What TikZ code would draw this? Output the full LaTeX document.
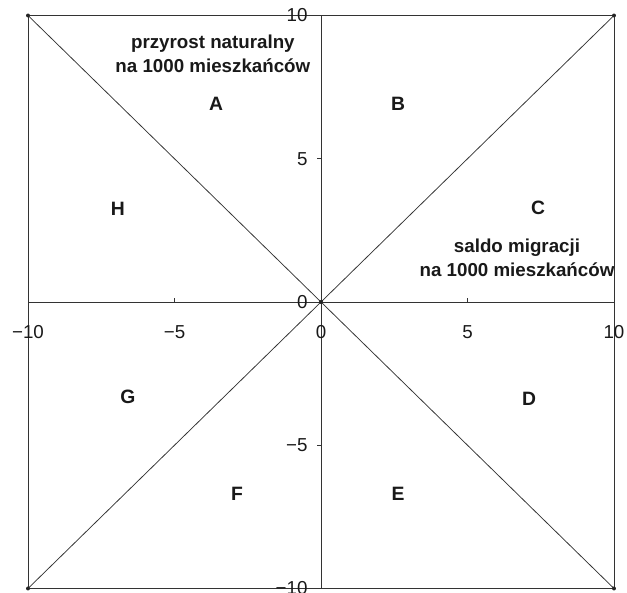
\documentclass[tikz,border=0pt]{standalone}
\usepackage{fontspec}
\setmainfont{Liberation Sans}
\usepackage{xcolor}
\usepackage{tikz}
\usetikzlibrary{positioning}

\begin{document}
\begin{tikzpicture}[x=0.879cm,y=0.8595cm,line width=0.65pt,
  every node/.style={font=\fontsize{16}{18}\selectfont,text=black!90,inner sep=0pt},
  zone/.style={font=\fontsize{16.5}{20}\selectfont\bfseries},
  axistitle/.style={font=\fontsize{16}{20.5}\selectfont\bfseries,align=center}]
\useasboundingbox (-10.956,-10.157) rectangle (10.444,10.541);
\coordinate (nw) at (-10,10); \coordinate (ne) at (10,10);
\coordinate (sw) at (-10,-10); \coordinate (se) at (10,-10);
\coordinate (xl) at (-10,0); \coordinate (xr) at (10,0);
\coordinate (yb) at (0,-10); \coordinate (yt) at (0,10);
\coordinate (o) at (0,0);
\draw[black!80] (nw)--(ne)--(se)--(sw)--cycle;
\draw[black!80] (xl)--(xr); \draw[black!80] (yb)--(yt);
\draw[black!80] (nw)--(se); \draw[black!80] (sw)--(ne);
% ticks
\foreach \v in {-5,5} {\draw[black!80] (\v,0)--(\v,0.15); \draw[black!80] (0,\v)--(-0.15,\v);}
\foreach \v/\t [count=\i] in {-10/−10,-5/−5,0/0,5/5,10/10} {
  \node (xt\i) at (\v,-1.05) {\t};
  \node[anchor=east] (yt\i) at (-0.45,\v) {\t};}
\foreach \p in {nw,ne,sw,se,o} \fill[black!85] (\p) circle (1.7pt);
% sectors
\node[zone] (A) at (-3.58,6.91) {A};
\node[zone] (B) at (2.63,6.91) {B};
\node[zone] (C) at (7.41,3.28) {C};
\node[zone] (D) at (7.10,-3.39) {D};
\node[zone] (E) at (2.63,-6.70) {E};
\node[zone] (F) at (-2.87,-6.70) {F};
\node[zone] (G) at (-6.59,-3.32) {G};
\node[zone] (H) at (-6.93,3.25) {H};
\node[axistitle] (przyrost) at (-3.69,8.66) {przyrost naturalny\\na 1000 mieszkańców};
\node[axistitle] (saldo) at (6.69,1.54) {saldo migracji\\na 1000 mieszkańców};
\end{tikzpicture}
\end{document}
